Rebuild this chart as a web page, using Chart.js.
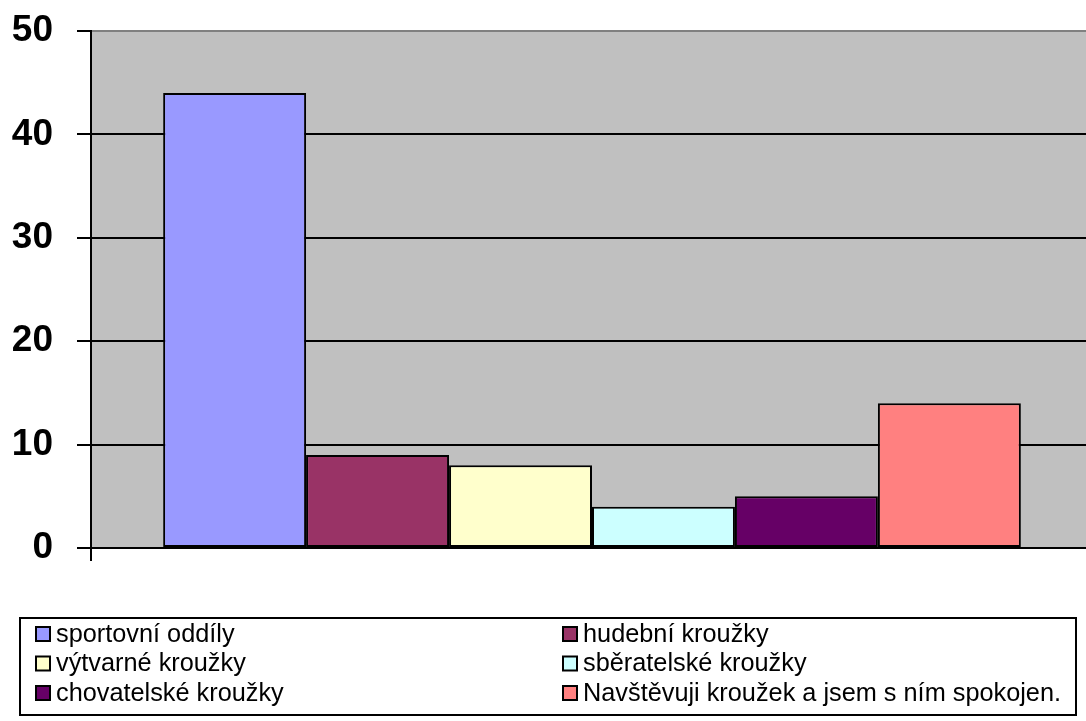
<!DOCTYPE html>
<html>
<head>
<meta charset="utf-8">
<script src="https://cdn.jsdelivr.net/npm/chart.js@4/dist/chart.umd.min.js"></script>
<style>
    html, body { margin: 0; padding: 0; background: #fff; overflow: hidden; }
    #wrap { width: 1086px; height: 721px; overflow: hidden; position: relative; }
    #wrap canvas { position: absolute; left: 0; top: 0; }
</style>
</head>
<body>
<div id="wrap"><canvas id="chart" width="1100" height="721"></canvas></div>
<script>
const seriesNames = [
    'sportovní oddíly',
    'hudební kroužky',
    'výtvarné kroužky',
    'sběratelské kroužky',
    'chovatelské kroužky',
    'Navštěvuji kroužek a jsem s ním spokojen.'
];
const seriesValues = [44, 9, 8, 4, 5, 14];
const seriesColors = ['#9999ff', '#993366', '#ffffcc', '#ccffff', '#660066', '#ff8080'];
const yTicks = [0, 10, 20, 30, 40, 50];

const FONT = "'Liberation Sans', Arial, sans-serif";

// gray plot area
const plotBackground = {
    id: 'plotBackground',
    beforeDraw(chart) {
        const { ctx, chartArea } = chart;
        ctx.save();
        ctx.fillStyle = '#c0c0c0';
        ctx.fillRect(chartArea.left, chartArea.top, chartArea.right - chartArea.left, chartArea.bottom - chartArea.top);
        ctx.restore();
    }
};

// boxed legend in two columns, like the old Excel one
const boxLegend = {
    id: 'boxLegend',
    afterDraw(chart) {
        const ctx = chart.ctx;
        ctx.save();
        ctx.lineWidth = 2;
        ctx.strokeStyle = '#000';
        ctx.strokeRect(20, 618, 1056, 97);
        ctx.font = '25.3px ' + FONT;
        ctx.textBaseline = 'middle';
        ctx.fillStyle = '#000';
        chart.data.datasets.forEach((ds, i) => {
            const col = i % 2;
            const row = Math.floor(i / 2);
            const x = col === 0 ? 36 : 563;
            const y = 634 + row * 29.5;
            ctx.fillStyle = ds.backgroundColor;
            ctx.fillRect(x, y - 7, 14, 14);
            ctx.strokeRect(x, y - 7, 14, 14);
            ctx.fillStyle = '#000';
            ctx.fillText(ds.label, x + 20, y + 1);
        });
        ctx.restore();
    }
};

const datasets = seriesNames.map((name, i) => ({
    label: name,
    data: [seriesValues[i]],
    backgroundColor: seriesColors[i],
    borderColor: '#000',
    borderWidth: 2,
    borderSkipped: false,
    categoryPercentage: 0.856,
    barPercentage: 1
}));

new Chart(document.getElementById('chart'), {
    type: 'bar',
    data: { labels: [''], datasets: datasets },
    plugins: [plotBackground, boxLegend],
    options: {
        responsive: false,
        animation: false,
        layout: { padding: { top: 31, right: 7, left: 0, bottom: 0 } },
        scales: {
            x: {
                ticks: { display: false },
                grid: { drawOnChartArea: false, color: '#000', lineWidth: 2, tickLength: 13 },
                border: { color: '#000', width: 2 },
                afterFit(scale) { scale.height = 173; }
            },
            y: {
                min: 0,
                max: 50,
                afterBuildTicks(scale) { scale.ticks = yTicks.map(v => ({ value: v })); },
                ticks: {
                    padding: 24,
                    color: '#000',
                    font: { family: FONT, size: 37, weight: 'bold' }
                },
                grid: {
                    color: ctx => ctx.tick && ctx.tick.value === 50 ? '#808080' : '#000',
                    lineWidth: 2,
                    tickLength: 14,
                    tickColor: '#000'
                },
                border: { color: '#000', width: 2 },
                afterFit(scale) {
                    scale.width = 91;
                    scale.paddingTop = 0;
                    scale.paddingBottom = 0;
                }
            }
        },
        plugins: {
            legend: { display: false },
            tooltip: { enabled: false }
        }
    }
});
</script>
</body>
</html>
